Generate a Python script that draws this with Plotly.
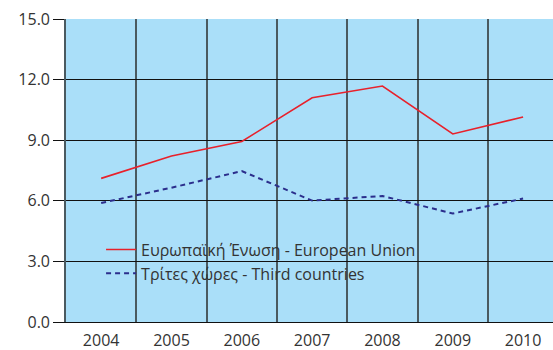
import plotly.graph_objects as go

years = ["2004", "2005", "2006", "2007", "2008", "2009", "2010"]
eu_values = [7.11, 8.22, 8.94, 11.10, 11.68, 9.31, 10.15]
third_values = [5.89, 6.65, 7.47, 6.01, 6.24, 5.37, 6.11]
eu_name = "Ευρωπαϊκή Ένωση - European Union"
third_name = "Τρίτες χώρες - Third countries"
y_ticks = [0, 3, 6, 9, 12, 15]
y_tick_text = ["0.0", "3.0", "6.0", "9.0", "12.0", "15.0"]

font_family = "Open Sans, DejaVu Sans, sans-serif"
text_color = "#333333"

fig = go.Figure()
fig.add_trace(go.Scatter(
    x=years, y=eu_values, name=eu_name, mode="lines",
    line=dict(color="#e8212b", width=1.6),
))
fig.add_trace(go.Scatter(
    x=years, y=third_values, name=third_name, mode="lines",
    line=dict(color="#2b2e8c", width=2, dash="5px,4px"),
))

fig.update_layout(
    width=553, height=350,
    margin=dict(l=66, r=0, t=19, b=28),
    paper_bgcolor="white",
    plot_bgcolor="#aadff9",
    font=dict(family=font_family, size=16, color=text_color),
    showlegend=True,
    legend=dict(
        x=0.072, y=0.295, xanchor="left", yanchor="top",
        bgcolor="rgba(0,0,0,0)", borderwidth=0,
        font=dict(size=16, color=text_color),
        tracegroupgap=0, itemwidth=30,
    ),
)

fig.update_xaxes(
    type="category", range=[-0.5, 6.425],
    tickson="boundaries", ticks="",
    ticklabelstandoff=4, automargin=False,
    showgrid=True, gridcolor="#4a5a60", gridwidth=1.6,
    showline=True, linecolor="#111111", linewidth=1.2,
    tickfont=dict(size=16, color=text_color),
    fixedrange=True,
)
fig.update_yaxes(
    range=[0, 15], tickvals=y_ticks, ticktext=y_tick_text,
    ticks="outside", ticklen=11, tickcolor="#111111", tickwidth=1.2,
    automargin=False,
    showgrid=True, gridcolor="#111111", gridwidth=1.2,
    zeroline=False,
    showline=True, linecolor="#4a5a60", linewidth=1.6,
    tickfont=dict(size=16, color=text_color),
    fixedrange=True,
)

fig.write_html("out.html")
